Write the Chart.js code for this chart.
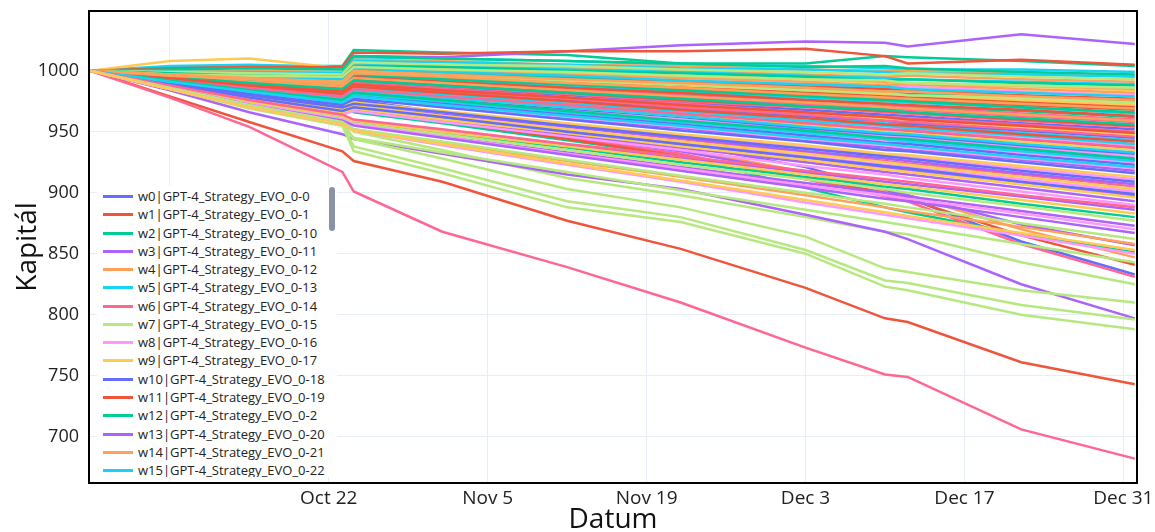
<!DOCTYPE html>
<html>
<head>
<meta charset="utf-8">
<script src="https://cdn.jsdelivr.net/npm/chart.js@4.4.0/dist/chart.umd.min.js"></script>
<style>
  html, body { margin: 0; padding: 0; background: #fff; }
  #wrap { position: relative; width: 1155px; height: 532px; overflow: hidden; }
  #legend { position: absolute; left: 97px; top: 185px; width: 240px; height: 292px; background: #fff;
            overflow: hidden; font-family: "Open Sans", sans-serif; font-size: 13px; color: #222; }
  .item { position: absolute; left: 0; height: 18px; line-height: 18px; white-space: nowrap; }
  .swatch { position: absolute; left: 6px; top: 8px; width: 30px; height: 3px; }
  .label { position: absolute; left: 41px; top: 0; }
  #thumb { position: absolute; left: 232px; top: 2px; width: 6px; height: 44px; border-radius: 3px; background: #8a93a6; }
</style>
</head>
<body>
<div id="wrap">
  <canvas id="chart" width="1155" height="532"></canvas>
  <div id="legend"></div>
</div>
<script>
// x positions: days after Oct 1
const dayOffsets = [0, 7, 14, 22.2, 23.2, 31, 42, 52, 63, 70, 72, 82, 92];
const xTickDays = [7, 21, 35, 49, 63, 77, 91];
const xTickLabels = ['', 'Oct 22', 'Nov 5', 'Nov 19', 'Dec 3', 'Dec 17', 'Dec 31'];
const yTickValues = [700, 750, 800, 850, 900, 950, 1000];

// capital per run
const w0 = [1000,994,989,984,990,986,980,974,968,964,963,957,952];
const w1 = [1000,979,958,934,926,909,877,854,822,797,794,761,743];
const w2 = [1000,1003,1004,1004,1017,1015,1013,1006,1006,1012,1011,1008,1004];
const w3 = [1000,1002,1003,1002,1012,1011,1016,1021,1024,1023,1020,1030,1022];
const w4 = [1000,990,980,969,973,963,949,936,917,902,898,870,847];
const w5 = [1000,1004,1005,1003,1011,1010,1008,1005,1004,1002,1001,1001,999];
const w6 = [1000,978,954,917,901,868,839,810,773,751,749,706,682];
const w7 = [1000,987,973,960,950,935,912,898,880,868,866,843,825];
const w8 = [1000,998,995,993,1001,999,995,992,989,986,987,983,980];
const w9 = [1000,1008,1010,1002,1008,1000,996,990,985,981,978,976,972];
const w10 = [1000,991,982,972,976,966,952,940,921,903,896,860,833];
const w11 = [1000,1002,1003,1003,1015,1014,1016,1016,1018,1012,1006,1009,1005];
const w12 = [1000,990,980,970,966,957,943,930,904,888,884,866,851];
const w13 = [1000,984,966,948,944,932,915,903,882,868,862,825,797];
const w14 = [1000,999,1000,999,1009,1008,1005,1004,1001,1000,1000,998,996];
const w15 = [1000,993,987,981,987,982,975,968,962,957,956,949,943];
const w16 = [1000,990,979,968,971,960,945,932,911,897,893,858,831];
const w17 = [1000,986,971,958,944,928,903,888,864,838,835,820,810];
const w18 = [1000,992,984,977,982,976,968,960,952,947,945,938,930];
const w19 = [1000,999,998,996,1004,1001,999,995,993,990,990,987,984];
const w20 = [1000,993,987,982,988,983,976,970,963,959,957,951,945];
const w21 = [1000,989,978,966,970,959,944,930,912,900,895,865,841];
const w22 = [1000,1001,1002,1001,1012,1010,1008,1006,1003,1004,1002,999,997];
const w23 = [1000,989,978,967,970,960,947,934,916,903,898,874,857];
const w24 = [1000,998,998,997,1006,1004,1002,1000,997,995,996,993,991];
const w25 = [1000,996,992,988,996,992,988,983,978,975,974,970,965];
const w26 = [1000,990,979,969,972,964,954,944,933,926,924,915,905];
const w27 = [1000,985,970,956,938,920,893,880,853,828,826,808,796];
const w28 = [1000,993,986,980,986,981,973,966,959,954,952,946,939];
const w29 = [1000,996,993,990,999,996,992,988,983,981,979,976,972];
const w30 = [1000,993,986,979,985,979,971,964,957,952,950,943,936];
const w31 = [1000,997,994,992,1001,998,995,991,987,985,984,980,977];
const w32 = [1000,995,991,987,995,991,986,981,976,973,971,967,962];
const w33 = [1000,991,982,973,978,971,961,953,943,937,935,927,918];
const w34 = [1000,989,977,966,969,961,949,939,927,920,918,907,897];
const w35 = [1000,999,997,996,1006,1004,1001,999,996,994,993,991,989];
const w36 = [1000,995,990,986,994,990,985,980,974,971,970,965,960];
const w37 = [1000,985,969,955,934,916,888,876,850,823,820,800,788];
const w38 = [1000,992,983,975,980,974,965,957,948,943,941,933,925];
const w39 = [1000,994,988,983,989,984,978,972,965,961,960,954,948];
const w40 = [1000,992,985,977,983,977,969,962,953,948,947,939,932];
const w41 = [1000,997,993,990,998,995,990,986,982,979,978,974,970];
const w42 = [1000,998,995,992,1000,997,994,989,986,983,981,979,975];
const w43 = [1000,990,979,969,972,965,954,945,934,928,926,916,907];
const w44 = [1000,998,996,994,1004,1002,999,996,994,991,990,988,985];
const w45 = [1000,999,999,998,1008,1007,1005,1002,1001,999,998,997,995];
const w46 = [1000,995,990,986,993,989,983,978,973,969,968,963,958];
const w47 = [1000,985,970,955,945,933,917,902,886,876,873,858,843];
const w48 = [1000,991,982,973,978,971,962,954,944,939,937,928,920];
const w49 = [1000,992,985,978,984,978,970,963,956,951,949,942,935];
const w50 = [1000,992,984,976,981,975,966,958,950,944,943,935,927];
const w51 = [1000,997,994,990,997,994,989,985,980,977,976,972,968];
const w52 = [1000,987,975,962,958,949,937,925,913,905,903,891,880];
const w53 = [1000,989,978,967,970,962,950,940,928,921,919,908,898];
const w54 = [1000,998,996,994,1003,1001,997,994,991,988,989,985,982];
const w55 = [1000,993,986,980,986,981,973,967,959,955,953,947,940];
const w56 = [1000,994,989,984,991,987,981,975,970,966,965,959,954];
const w57 = [1000,999,998,997,1007,1005,1004,1001,999,997,998,995,993];
const w58 = [1000,990,980,970,973,966,956,947,937,931,929,920,911];
const w59 = [1000,990,981,971,974,967,957,948,939,932,931,922,913];
const w60 = [1000,991,983,974,980,973,964,956,947,941,940,931,923];
const w61 = [1000,996,992,988,995,991,986,982,976,973,972,968,963];
const w62 = [1000,998,996,995,1004,1003,1000,998,995,992,993,990,988];
const w63 = [1000,988,977,965,968,959,947,937,925,917,915,904,893];
const w64 = [1000,986,971,957,952,941,926,913,898,888,885,872,858];
const w65 = [1000,997,995,993,1002,999,996,992,989,987,985,982,979];
const w66 = [1000,994,988,983,989,985,978,973,966,962,961,956,950];
const w67 = [1000,996,993,991,999,996,992,989,984,982,980,978,974];
const w68 = [1000,989,979,968,971,963,952,942,930,923,921,911,901];
const w69 = [1000,989,979,968,971,963,952,942,932,925,923,913,903];
const w70 = [1000,991,981,972,977,970,960,951,942,935,934,925,916];
const w71 = [1000,995,990,985,992,988,982,976,971,967,966,960,955];
const w72 = [1000,996,992,989,997,993,989,984,979,976,975,970,966];
const w73 = [1000,988,975,963,959,950,939,928,917,909,907,897,886];
const w74 = [1000,996,991,987,994,990,984,979,974,970,969,964,959];
const w75 = [1000,992,985,978,984,978,970,963,954,949,948,940,933];
const w76 = [1000,994,988,982,988,983,977,970,964,959,958,952,946];
const w77 = [1000,997,996,995,1003,1001,999,996,993,992,990,988,986];
const w78 = [1000,988,976,964,967,958,946,935,922,915,912,901,890];
const w79 = [1000,989,977,966,969,960,949,938,927,919,917,907,896];
const w80 = [1000,990,980,970,973,966,955,946,936,930,928,918,909];
const w81 = [1000,993,987,981,987,982,975,968,961,956,955,948,942];
const w82 = [1000,995,990,985,992,988,982,977,971,968,966,961,956];
const w83 = [1000,987,973,960,956,946,933,921,908,900,897,885,873];
const w84 = [1000,997,994,991,1000,997,993,990,986,983,983,979,976];
const w85 = [1000,992,983,975,981,975,966,958,949,944,942,934,926];
const w86 = [1000,993,986,979,985,979,972,965,957,952,951,944,937];
const w87 = [1000,987,974,961,957,948,935,923,911,903,900,889,877];
const w88 = [1000,987,973,960,956,946,932,920,906,898,895,883,870];
const w89 = [1000,988,975,963,959,950,938,927,915,907,905,894,883];
const w90 = [1000,989,978,967,970,962,950,940,929,922,920,909,899];
const w91 = [1000,994,988,983,989,984,978,972,966,962,960,955,949];
const w92 = [1000,992,984,976,982,976,967,959,951,945,944,936,928];
const w93 = [1000,986,972,959,955,945,931,918,904,895,893,880,867];
const w94 = [1000,996,993,989,998,995,990,986,981,978,977,973,969];
const w95 = [1000,991,983,974,979,972,963,955,945,940,938,929,921];
const w96 = [1000,988,976,964,960,952,940,930,918,911,909,898,888];
const w97 = [1000,986,972,958,952,942,927,914,900,891,888,875,862];
const w98 = [1000,985,970,956,951,939,923,909,892,882,879,865,850];
const w99 = [1000,985,970,956,951,940,924,910,894,884,881,867,853];

const runs = [w0,w1,w2,w3,w4,w5,w6,w7,w8,w9,w10,w11,w12,w13,w14,w15,w16,w17,w18,w19,
  w20,w21,w22,w23,w24,w25,w26,w27,w28,w29,w30,w31,w32,w33,w34,w35,w36,w37,w38,w39,
  w40,w41,w42,w43,w44,w45,w46,w47,w48,w49,w50,w51,w52,w53,w54,w55,w56,w57,w58,w59,
  w60,w61,w62,w63,w64,w65,w66,w67,w68,w69,w70,w71,w72,w73,w74,w75,w76,w77,w78,w79,
  w80,w81,w82,w83,w84,w85,w86,w87,w88,w89,w90,w91,w92,w93,w94,w95,w96,w97,w98,w99];

// strategy ids sorted as strings: 0-0, 0-1, 0-10, 0-11 ...
const strategyIds = runs.map((_, i) => '0-' + i).sort();

const colors = ['#636efa', '#ef553b', '#00cc96', '#ab63fa', '#ffa15a',
                '#19d3f3', '#ff6692', '#b6e880', '#ff97ff', '#fecb52'];

const datasets = runs.map((vals, i) => ({
  label: 'w' + i + '|GPT-4_Strategy_EVO_' + strategyIds[i],
  data: vals.map((v, k) => ({ x: dayOffsets[k], y: v })),
  borderColor: colors[i % 10],
  backgroundColor: colors[i % 10],
  order: -i,
}));

const frameBorder = {
  id: 'frameBorder',
  afterDraw(chart) {
    const { ctx, chartArea: a } = chart;
    ctx.save();
    ctx.strokeStyle = '#000';
    ctx.lineWidth = 2;
    ctx.strokeRect(a.left, a.top, a.right - a.left, a.bottom - a.top);
    ctx.restore();
  }
};

const fontFamily = '"Open Sans", sans-serif';

new Chart(document.getElementById('chart'), {
  type: 'line',
  data: { datasets },
  options: {
    responsive: false,
    animation: false,
    devicePixelRatio: 1,
    layout: { padding: { top: 11, right: 18, left: 0, bottom: 0 } },
    plugins: { legend: { display: false }, tooltip: { enabled: false } },
    elements: { line: { borderWidth: 2.5, tension: 0 }, point: { radius: 0 } },
    scales: {
      x: {
        type: 'linear', min: -0.12, max: 92.2,
        afterBuildTicks(s) { s.ticks = xTickDays.map(v => ({ value: v })); },
        afterFit(s) { s.height = 49; s.paddingLeft = 0; s.paddingRight = 0; },
        ticks: { autoSkip: false, maxRotation: 0, padding: 4, color: '#222',
                 font: { family: fontFamily, size: 19 },
                 callback: (v, idx) => xTickLabels[idx] },
        grid: { color: '#e8eef7', lineWidth: 1, drawTicks: false },
        border: { display: false },
        title: { display: true, text: 'Datum', color: '#111',
                 font: { family: fontFamily, size: 28, lineHeight: 0.85 }, padding: 0 },
      },
      y: {
        min: 662, max: 1049,
        afterBuildTicks(s) { s.ticks = yTickValues.map(v => ({ value: v })); },
        afterFit(s) { s.width = 89; s.paddingTop = 0; s.paddingBottom = 0; },
        ticks: { padding: 10, color: '#222', font: { family: fontFamily, size: 18 },
                 callback: v => String(v) },
        grid: { color: '#e8eef7', lineWidth: 1, drawTicks: false },
        border: { display: false },
        title: { display: true, text: 'Kapitál', color: '#111',
                 font: { family: fontFamily, size: 28 }, padding: { top: 11, bottom: 0 } },
      }
    }
  },
  plugins: [frameBorder]
});

// plotly-style legend box in the lower left, only the first rows fit
const legend = document.getElementById('legend');
datasets.forEach((ds, i) => {
  const row = document.createElement('div');
  row.className = 'item';
  row.style.top = (2 + i * 18.27) + 'px';
  const sw = document.createElement('span');
  sw.className = 'swatch';
  sw.style.background = ds.borderColor;
  const tx = document.createElement('span');
  tx.className = 'label';
  tx.textContent = ds.label;
  row.appendChild(sw);
  row.appendChild(tx);
  legend.appendChild(row);
});
const thumb = document.createElement('div');
thumb.id = 'thumb';
legend.appendChild(thumb);
</script>
</body>
</html>
